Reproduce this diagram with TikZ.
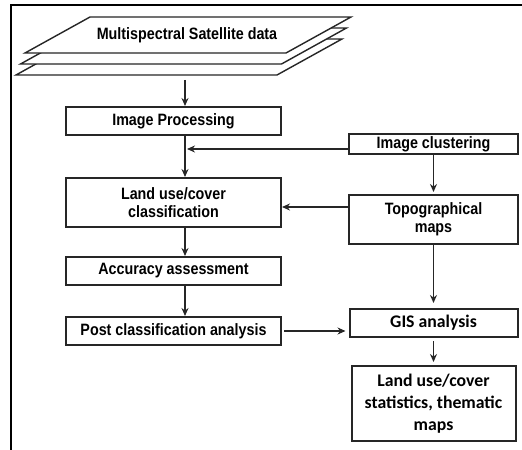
\documentclass[tikz,border=0pt]{standalone}
\usepackage{fontspec}
\setmainfont{Liberation Sans}[FakeStretch=0.87]
\newfontfamily\calib{Carlito}
\usetikzlibrary{arrows.meta,positioning,calc}

\begin{document}
\begin{tikzpicture}[
x=1bp, y=-1bp,
box/.style={draw=black!85, line width=2bp, align=center, inner sep=2pt, font=\fontsize{16.5}{18}\selectfont\bfseries},
calbox/.style={box, font=\calib\fontsize{17.8}{22}\selectfont\bfseries},
layer/.style={draw=black!85, fill=white, line width=1.4bp},
arrow/.style={-{Stealth[length=8bp,width=7bp]}, line width=1.6bp, draw=black!85}
]
\useasboundingbox (0,0) rectangle (522,450);
\draw[line width=2.2bp] (11,450) -- (11,5) -- (522,5);

% stacked satellite scenes
\coordinate (stack) at (188,35);
\foreach \k in {2,1,0}
  \filldraw[layer] ($(stack)+(-98-4.5*\k,-18+11*\k)$) -- ++(261,0) -- ++(-65,36) -- ++(-261,0) -- cycle;
\node[font=\fontsize{16.5}{18}\selectfont\bfseries] (sat) at (187,35) {Multispectral Satellite data};
\coordinate (lane) at (185,0);

% left column
\node[box, minimum width=215bp, minimum height=28bp] (ip) at (173.5,121) {Image Processing};
\node[box, minimum width=215bp, minimum height=49bp, below=41bp of ip] (lu) {Land use/cover\\classification};
\node[box, minimum width=215bp, minimum height=28bp, below=28bp of lu] (acc) {Accuracy assessment};
\node[box, minimum width=215bp, minimum height=28bp, below=30bp of acc] (post) {Post classification analysis};

% right column
\node[box, minimum width=169bp, minimum height=20bp] (clust) at (433.5,144) {Image clustering};
\node[box, minimum width=169bp, minimum height=49bp, below=39bp of clust] (topo) {Topographical\\maps};
\node[calbox, minimum width=168bp, minimum height=28bp, below=63bp of topo] (gis) {GIS analysis};
\node[calbox, minimum width=164bp, minimum height=75bp, below=27bp of gis] (fin) {Land use/cover\\statistics, thematic\\maps};

\draw[arrow] ([yshift=-45bp]stack -| lane) -- (ip.north -| lane);
\draw[arrow] (ip.south -| lane) -- (lu.north -| lane);
\draw[arrow, shorten >=2bp] ([yshift=-5bp]clust.west) -- ([yshift=-5bp]clust.west -| lane);
\draw[arrow] ([yshift=-4.5bp]lu.east -| topo.west) -- ([yshift=-4.5bp]lu.east);
\draw[arrow] (lu.south -| lane) -- (acc.north -| lane);
\draw[arrow] (acc.south -| lane) -- (post.north -| lane);
\draw[arrow, shorten <=2bp, shorten >=3bp] (post.east) -- (post.east -| gis.west);
\draw[arrow, shorten >=2bp] (clust) -- (topo);
\draw[arrow, shorten >=5bp] (topo) -- (gis);
\draw[arrow, shorten <=3bp, shorten >=3bp] (gis) -- (fin);
\end{tikzpicture}
\end{document}
